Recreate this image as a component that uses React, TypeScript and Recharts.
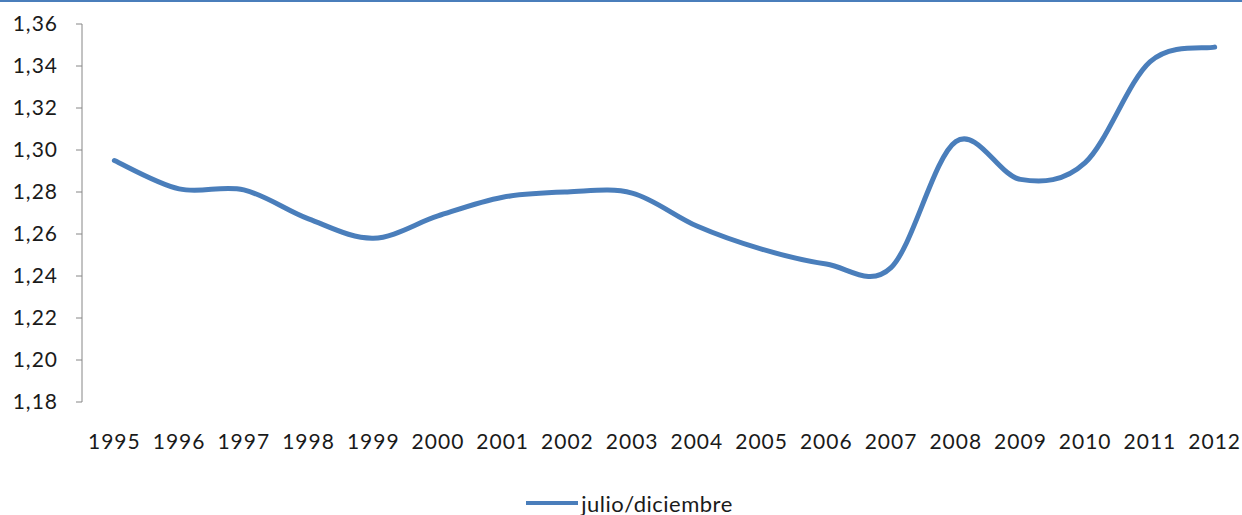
import { Legend, Line, LineChart, XAxis, YAxis } from "recharts"

const years = [
  "1995", "1996", "1997", "1998", "1999", "2000", "2001", "2002", "2003",
  "2004", "2005", "2006", "2007", "2008", "2009", "2010", "2011", "2012",
]
const julioDiciembre = [
  1.295, 1.2815, 1.281, 1.2672, 1.258, 1.2686, 1.2775, 1.28, 1.2795,
  1.2638, 1.2528, 1.2457, 1.244, 1.304, 1.286, 1.294, 1.342, 1.349,
]
const yTicks = [1.18, 1.2, 1.22, 1.24, 1.26, 1.28, 1.3, 1.32, 1.34, 1.36]

const data = years.map((year, i) => ({ idx: i, year, value: julioDiciembre[i] }))
// tick marks sit between categories, labels in the middle
const boundaryTicks = [...years.map((_, i) => i - 0.5), years.length - 0.5]
const labelTicks = years.map((_, i) => i)

const BLUE = "#4a7ebb"
const AXIS = "#868686"
const FONT = "Lato, 'Open Sans', sans-serif"
const TEXT = "#1a1a1a"

// Excel-style smoothed line (Catmull-Rom through each point)
const excelCurve = (context: any) => {
  let pts: [number, number][] = []
  return {
    areaStart() {},
    areaEnd() {},
    lineStart() {
      pts = []
    },
    lineEnd() {
      if (!pts.length) return
      context.moveTo(pts[0][0], pts[0][1])
      for (let i = 0; i < pts.length - 1; i++) {
        const p0 = pts[i - 1] || pts[i]
        const p1 = pts[i]
        const p2 = pts[i + 1]
        const p3 = pts[i + 2] || pts[i + 1]
        context.bezierCurveTo(
          p1[0] + (p2[0] - p0[0]) / 6,
          p1[1] + (p2[1] - p0[1]) / 6,
          p2[0] - (p3[0] - p1[0]) / 6,
          p2[1] - (p3[1] - p1[1]) / 6,
          p2[0],
          p2[1]
        )
      }
    },
    point(x: number, y: number) {
      pts.push([+x, +y])
    },
  }
}

const renderLegend = ({ payload }: any) => (
  <div style={{ display: "flex", justifyContent: "center", alignItems: "center", paddingLeft: 12, height: 32 }}>
    {(payload || []).map((entry: any) => (
      <div key={entry.value} style={{ display: "flex", alignItems: "center" }}>
        <span style={{ display: "inline-block", width: 52, height: 4, background: BLUE, marginRight: 3 }} />
        <span style={{ fontFamily: FONT, fontSize: 22, color: TEXT, letterSpacing: 0.5 }}>{entry.value}</span>
      </div>
    ))}
  </div>
)

export default function App() {
  return (
    <div
      style={{
        position: "fixed",
        left: 0,
        top: 0,
        width: 1242,
        height: 515,
        overflow: "hidden",
        background: "#fff",
      }}
    >
      <div style={{ position: "absolute", left: 0, top: 0, width: 1242, height: 2, background: BLUE }} />
      <LineChart width={1247} height={515} data={data} margin={{ top: 24, right: 0, left: 0, bottom: 36 }}>
        <XAxis
          xAxisId="grid"
          dataKey="idx"
          type="number"
          domain={[-0.5, years.length - 0.5]}
          ticks={boundaryTicks}
          tick={false}
          tickSize={6}
          stroke={AXIS}
          height={0}
        />
        <XAxis
          xAxisId="labels"
          dataKey="idx"
          type="number"
          domain={[-0.5, years.length - 0.5]}
          ticks={labelTicks}
          tickFormatter={(i: number) => years[i]}
          axisLine={false}
          tickLine={false}
          tickSize={0}
          tickMargin={32}
          height={45}
          interval={0}
          tick={{ fill: TEXT, fontSize: 21, fontFamily: FONT, letterSpacing: 1 }}
        />
        <YAxis
          type="number"
          domain={[1.18, 1.36]}
          ticks={yTicks}
          width={82}
          tickSize={6}
          tickMargin={18}
          stroke={AXIS}
          interval={0}
          tickFormatter={(v: number) => v.toFixed(2).replace(".", ",")}
          tick={{ fill: TEXT, fontSize: 21, fontFamily: FONT, letterSpacing: 1 }}
        />
        <Legend verticalAlign="bottom" content={renderLegend} wrapperStyle={{ top: 487, height: 32 }} />
        <Line
          xAxisId="grid"
          dataKey="value"
          name="julio/diciembre"
          type={excelCurve as any}
          stroke={BLUE}
          strokeWidth={5}
          strokeLinecap="round"
          dot={false}
          activeDot={false}
          isAnimationActive={false}
        />
      </LineChart>
    </div>
  )
}
